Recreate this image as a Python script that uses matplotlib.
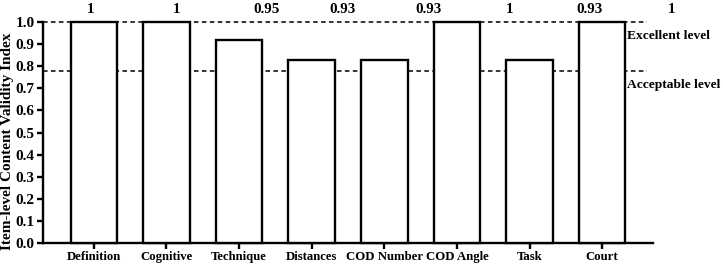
import matplotlib
matplotlib.use("Agg")
import matplotlib.pyplot as plt
import numpy as np

plt.rcParams['font.family'] = ['Liberation Serif', 'DejaVu Serif']
plt.rcParams['font.weight'] = 'bold'

categories = ['Definition', 'Cognitive', 'Technique', 'Distances',
              'COD Number', 'COD Angle', 'Task', 'Court']
icvi = [1.0, 1.0, 0.92, 0.83, 0.83, 1.0, 0.83, 1.0]
top_labels = ['1', '1', '0.95', '0.93', '0.93', '1', '0.93', '1']
excellent = 1.0
acceptable = 0.78

# where the top labels sit along x (they are not centred on the bars)
label_x = [-0.04, 1.14, 2.38, 3.43, 4.61, 5.72, 6.83, 7.96]

fig = plt.figure(figsize=(7.23, 2.69), dpi=100)
ax = fig.add_axes([43 / 723, 26 / 269, 610 / 723, 221 / 269])

x = np.arange(len(categories))
ax.bar(x, icvi, width=0.64, color='white', edgecolor='black', linewidth=1.7,
       zorder=3, clip_on=False)

ax.plot([-0.7, 7.62], [excellent, excellent], ls='--', color='black', lw=1.1,
        clip_on=False, zorder=1, dashes=(3, 2.2))
ax.plot([-0.7, 7.62], [acceptable, acceptable], ls='--', color='black', lw=1.1,
        clip_on=False, zorder=1, dashes=(3, 2.2))
ax.text(7.34, 0.935, 'Excellent level', fontsize=9.7, fontweight='bold',
        ha='left', va='center', clip_on=False)
ax.text(7.34, 0.715, 'Acceptable level', fontsize=9.7, fontweight='bold',
        ha='left', va='center', clip_on=False)

for lx, lab in zip(label_x, top_labels):
    ax.text(lx, 1.055, lab, fontsize=10.8, fontweight='bold',
            ha='center', va='center', clip_on=False)

ax.set_xlim(-0.7, 7.7)
ax.set_ylim(0, 1.0)
ax.set_yticks(np.arange(0, 1.01, 0.1))
ax.set_yticklabels([f'{v:.1f}' for v in np.arange(0, 1.01, 0.1)], fontsize=11,
                   fontweight='bold')
ax.set_xticks(x)
ax.set_xticklabels(categories, fontsize=9.2, fontweight='bold')
ax.set_ylabel('Item-level Content Validity Index', fontsize=11, fontweight='bold',
              va='center')
ax.yaxis.set_label_coords(-0.058, 0.46)

for s in ['top', 'right']:
    ax.spines[s].set_visible(False)
for s in ['left', 'bottom']:
    ax.spines[s].set_linewidth(1.7)
ax.tick_params(axis='both', width=1.7, length=4, pad=2)

fig.savefig('out.png', dpi=100)
